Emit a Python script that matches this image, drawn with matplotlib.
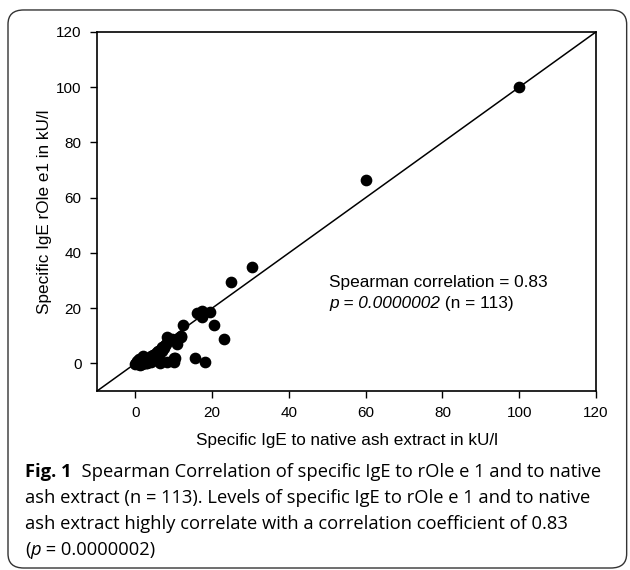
import matplotlib.pyplot as plt
from matplotlib.patches import FancyBboxPatch

# specific IgE to native ash extract (x) vs rOle e 1 (y), kU/l
ash = [100, 60, 30.5, 25.0, 23.2, 20.5, 19.5, 17.4, 17.4, 16.1, 15.4, 18.2,
       12.4, 11.9, 12.0, 10.0, 10.0, 10.9, 9.5, 9.0, 8.2, 8.0, 7.8, 7.5, 7.0, 6.8, 6.5,
       6.0, 6.2, 5.5, 5.0, 5.2, 4.5, 4.8, 4.0, 4.2, 3.5, 3.8, 3.0, 3.2, 2.5, 2.8,
       2.0, 2.2, 1.5, 1.8, 1.0, 1.2, 0.5, 0.8, 0.2, 0.0, 0.3, 8.3, 6.5, 10.3,
       3.0, 2.0, 1.0, 4.0, 5.5, 0.5]
role = [100, 66.3, 34.8, 29.3, 8.7, 13.8, 18.5, 18.8, 16.7, 18.1, 1.8, 0.4,
        13.8, 9.4, 10.0, 1.8, 0.4, 7.2, 9.0, 8.5, 9.4, 7.2, 6.5, 5.5, 6.0, 4.5, 5.0,
        4.5, 3.0, 4.0, 3.5, 2.5, 3.0, 2.0, 2.5, 1.5, 2.0, 1.0, 1.5, 0.5, 1.0, 0.2,
        0.8, 0.0, 0.5, -0.3, 0.3, -0.5, 0.2, -0.2, 0.0, -0.3, 0.5, 0.4, 0.0, 1.8,
        0.0, 2.5, 1.5, 0.5, 1.2, 1.0]

xticks = [0, 20, 40, 60, 80, 100, 120]
yticks = [0, 20, 40, 60, 80, 100, 120]

plt.rcParams['font.family'] = ['Liberation Sans', 'DejaVu Sans']

fig = plt.figure(figsize=(6.3, 5.7), dpi=100, facecolor='white')

# rounded frame around the figure
frame = FancyBboxPatch((0.0127, 0.0035), 0.982, 0.979, boxstyle='round,pad=0,rounding_size=0.025',
                       transform=fig.transFigure, fc='none', ec='#333333', lw=1.0)
fig.patches.append(frame)

ax = fig.add_axes([0.154, 0.314, 0.792, 0.630])
ax.plot([-10, 120], [-10, 120], color='black', lw=1.1, zorder=1)
ax.scatter(ash, role, s=55, color='black', zorder=2)

ax.set_xlim(-10, 120)
ax.set_ylim(-10, 120)
ax.set_xticks(xticks)
ax.set_yticks(yticks)
ax.tick_params(direction='out', length=5, width=1, labelsize=11, pad=6)
for s in ax.spines.values():
    s.set_linewidth(1.2)
ax.set_xlabel('Specific IgE to native ash extract in kU/l', fontsize=12.3, labelpad=9)
ax.set_ylabel('Specific IgE rOle e1 in kU/l', fontsize=12.3, labelpad=3)

ax.text(50.5, 29.3, 'Spearman correlation = 0.83', fontsize=12.4, va='center')
t = ax.text(50.5, 21.7, 'p = 0.0000002', fontsize=12.4, style='italic', va='center')
ax.annotate(' (n = 113)', xy=(1, 0), xycoords=t, va='bottom', fontsize=12.4)

# caption
cf = ['Open Sans', 'DejaVu Sans']
fs = 13.2
b = fig.text(0.040, 0.163, 'Fig. 1', fontsize=fs, weight='bold', family=cf)
ax.annotate('  Spearman Correlation of specific IgE to rOle e 1 and to native',
            xy=(1, 0), xycoords=b, va='bottom', fontsize=fs, family=cf)
fig.text(0.040, 0.118, 'ash extract (n = 113). Levels of specific IgE to rOle e 1 and to native',
         fontsize=fs, family=cf)
fig.text(0.040, 0.072, 'ash extract highly correlate with a correlation coefficient of 0.83',
         fontsize=fs, family=cf)
p0 = fig.text(0.040, 0.026, '(', fontsize=fs, family=cf)
p1 = ax.annotate('p', xy=(1, 0), xycoords=p0, va='bottom', fontsize=fs, family=cf, style='italic')
ax.annotate(' = 0.0000002)', xy=(1, 0), xycoords=p1, va='bottom', fontsize=fs, family=cf)

fig.savefig('out.png', dpi=100)
